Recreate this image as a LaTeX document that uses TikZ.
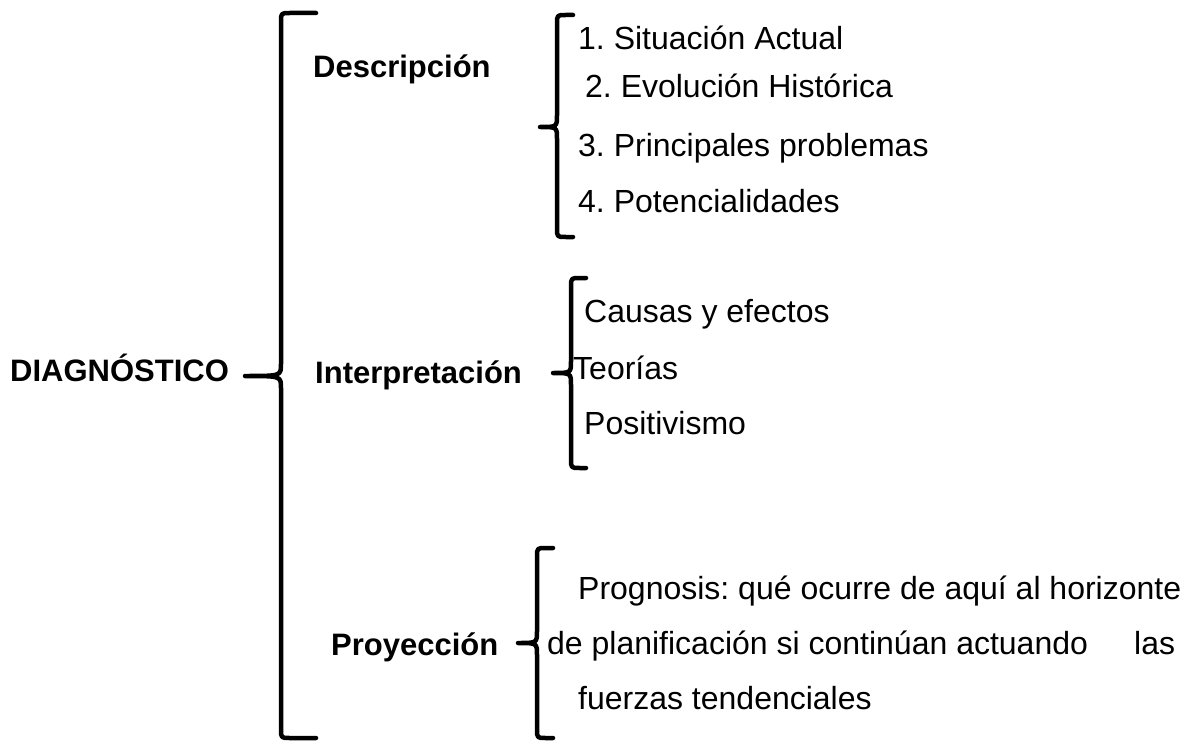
\documentclass[tikz,border=0pt]{standalone}
\usepackage{fontspec}
\setmainfont{Liberation Sans}
\usetikzlibrary{positioning}
\usetikzlibrary{calc}
\frenchspacing

% left brace: #1 x of the bar, #2 top, #3 tip y, #4 bottom, #5 tip x, #6 hook end x
\newcommand{\gbrace}[6]{%
  \draw[brace] (#6,#2) -- (#1+9,#2) .. controls (#1,#2) .. (#1,#2+9)
    -- (#1,#3-12) .. controls (#1,#3) .. (#5,#3)
    .. controls (#1,#3) .. (#1,#3+12)
    -- (#1,#4-9) .. controls (#1,#4) .. (#1+9,#4) -- (#6,#4);}

\begin{document}
\begin{tikzpicture}[x=1pt,y=-1pt,
    txt/.style={anchor=base west, inner sep=0pt, font=\fontsize{32}{38}\selectfont},
    head/.style={txt, font=\fontsize{31}{37}\selectfont\bfseries},
    brace/.style={line width=4.5pt, line cap=round, line join=round}]
				\useasboundingbox (0,0) rectangle (1195,749);
				
				% main title
				\node[head] (diag) at (10,381) {DIAGNÓSTICO};
				
				% three parts
				\node[head] (desc) at (313,78) {Descripción};
				\node[head] (interp) at (315,383) {Interpretación};
				\node[head] (proy) at (331,655) {Proyección};
				
				% descripcion items
				\node[txt] (sit) at (578,50) {1. Situación Actual};
				\node[txt] (evol) at (585,98) {2. Evolución Histórica};
				\node[txt] (prin) at (578,157) {3. Principales problemas};
				\node[txt] (pot) at (578,212) {4. Potencialidades};
				
				% interpretacion items
				\node[txt] (causas) at (584,322) {Causas y efectos};
				\node[txt] (teor) at (573,379) {Teorías};
				\node[txt] (posit) at (584,434) {Positivismo};
				
				% proyeccion text
				\node[txt] (prog1) at (578,599) {Prognosis: qué ocurre de aquí al horizonte};
				\node[txt] (prog2) at (547,654) {\makebox[628pt][l]{de planificación si continúan actuando\hfill las}};
				\node[txt] (prog3) at (578,709) {fuerzas tendenciales};
				
				% draw braces
				\gbrace{281}{13}{376}{738}{245}{316}
				\gbrace{557}{15}{127}{237}{540}{573}
				\gbrace{571}{278}{373}{468}{553}{586}
				\gbrace{537}{548}{643}{738}{518}{553}
			\end{tikzpicture}
\end{document}
